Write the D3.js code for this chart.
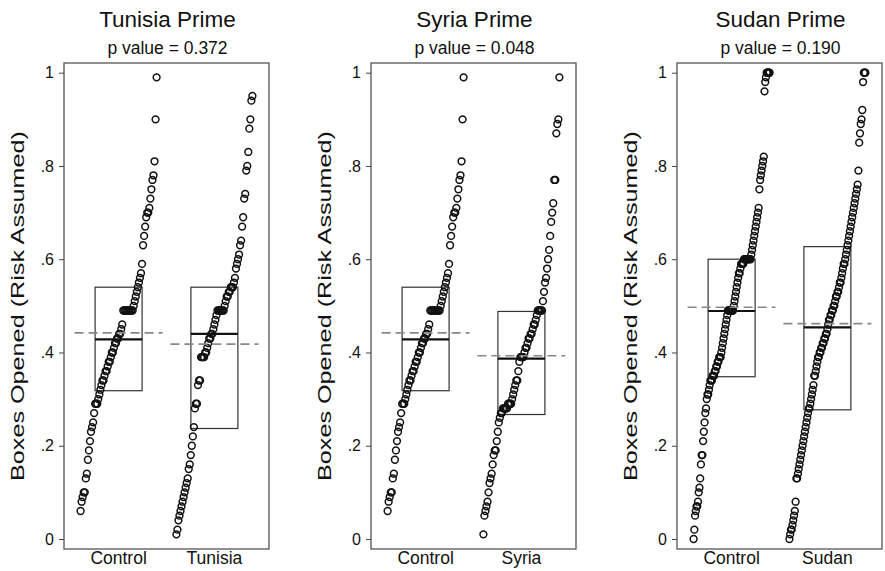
<!DOCTYPE html>
<html>
<head>
<meta charset="utf-8">
<script src="https://cdn.jsdelivr.net/npm/d3@7"></script>
<style>
  body { margin: 0; background: #fff; }
  svg { font-family: "Liberation Sans", Arial, sans-serif; }
</style>
</head>
<body>
<div id="chart"></div>
<script>
// panel titles and p values
const titles = ["Tunisia Prime", "Syria Prime", "Sudan Prime"];
const pValues = ["0.372", "0.048", "0.190"];
const groupNames = [["Control", "Tunisia"], ["Control", "Syria"], ["Control", "Sudan"]];

// share of boxes opened, sorted, one array per group
const controlA = [.06, .08, .09, .10, .10, .13, .14, .17, .19, .21, .23,
  .24, .25, .27, .29, .29,
  .29, .30, .31, .32, .33, .34, .34,
  .35, .36, .36, .37, .38, .38, .39, .40, .40, .41, .42, .42, .43, .43, .44, .44, .45, .46,
  .49, .49, .49, .49, .49, .49, .49, .49, .49, .49,
  .50, .51, .52, .53, .54, .55, .56,
  .57, .59, .63, .65, .67, .69, .70, .70, .71, .73, .75, .77, .78, .81, .90, .99];
const tunisia = [.01, .02, .04, .05, .06, .07, .08, .09, .10, .11, .12, .13, .15, .16, .18, .20, .22, .24,
  .28, .29, .29,
  .33, .34, .34,
  .39, .39, .39, .39,
  .40, .40, .41, .42, .43, .43, .44, .44, .45, .46, .47,
  .48, .49, .49, .49, .49, .49, .49, .49,
  .50, .51, .52, .52, .53, .53, .54, .54, .54,
  .55, .56, .58, .59, .60, .61, .63, .64, .67, .69, .73, .74, .79, .80, .83, .88, .90, .94, .95];
const syria = [.01, .05, .06, .07, .08, .10, .12, .13, .14, .16, .18, .19, .19, .21, .23, .25, .26,
  .27, .27, .28, .28, .28, .28, .28, .29, .29, .29, .29,
  .30, .31, .32, .33, .34, .34, .36, .38,
  .39, .39, .39, .39,
  .40, .41, .41, .42, .43, .43, .44, .44, .45, .46, .46, .47, .48,
  .49, .49, .49, .49, .49,
  .51, .53, .55, .56, .58, .60, .62, .65, .68, .70, .72, .77, .77, .87, .89, .90, .99];
const controlB = [0, .02, .05, .06, .07, .07, .08, .10, .11, .13,
  .16, .18, .18, .21, .23, .25, .27, .28,
  .30, .31, .31, .32, .33,
  .34, .34, .34, .35, .35, .35, .36, .36,
  .37, .37, .38, .38, .39, .39, .39, .40, .41, .42,
  .43, .44, .45, .46, .47,
  .48, .49, .49, .49, .49, .49, .49, .49, .49,
  .50, .51, .52, .53, .54, .55, .56, .57, .57, .58,
  .59, .59, .59, .59, .60, .60, .60, .60, .60, .60, .60, .60, .60, .60,
  .61, .62, .63, .64, .65, .66, .67, .68, .69, .70,
  .71, .75, .77, .78, .79, .80, .81, .82,
  .96, .98, .99, 1, 1, 1, 1, 1];
const sudan = [0, .01, .02, .02, .03, .04, .05, .06, .08,
  .13, .13, .14, .15,
  .16, .17, .18, .19, .20, .21,
  .22, .23, .24, .25, .26, .27,
  .28, .28, .29,
  .30, .31, .32, .33,
  .35, .35, .36, .37, .38, .39, .39,
  .40, .40, .41, .41, .42, .42, .43, .43, .44, .44, .45,
  .46, .47, .47, .48, .48, .49, .49, .50, .50, .51,
  .52, .52, .53, .53, .54, .55, .55, .56, .57, .58, .59, .59,
  .60, .61, .62, .63, .64, .65, .66, .67, .68, .69,
  .70, .71, .72, .73, .74, .75, .76,
  .79, .85, .87, .89, .90, .92, .98, 1, 1, 1];
const groupValues = [[controlA, tunisia], [controlA, syria], [controlB, sudan]];

// box summaries per group, as drawn: lower quartile, median, upper quartile, mean
const q1s = [[.318, .237], [.318, .267], [.348, .277]];
const medians = [[.428, .44], [.428, .387], [.489, .454]];
const q3s = [[.54, .54], [.54, .488], [.60, .627]];
const means = [[.442, .418], [.442, .393], [.497, .462]];

const yTicks = [0, .2, .4, .6, .8, 1];
const yTickLabels = ["0", ".2", ".4", ".6", ".8", "1"];

const W = 885, H = 571;
const panelLeft = [64, 371, 677];
const panelW = 205, plotTop = 63, plotBottom = 549;

const svg = d3.select("#chart").append("svg")
  .attr("width", W).attr("height", H);

const y = d3.scaleLinear().domain([0, 1]).range([539, 72.7]);

titles.forEach((title, p) => {
  const g = svg.append("g").attr("transform", `translate(${panelLeft[p]},0)`);

  const x = d3.scalePoint().domain(groupNames[p]).range([0, panelW]).padding(0.57);
  const spread = d3.scaleLinear().domain([0, 1]).range([-38, 38]);

  // title and p value
  g.append("text")
    .attr("x", panelW / 2 + 1).attr("y", 27)
    .attr("text-anchor", "middle")
    .attr("font-size", 22.5).attr("fill", "#111")
    .text(title);
  g.append("text")
    .attr("x", panelW / 2 + 1).attr("y", 54)
    .attr("text-anchor", "middle")
    .attr("font-size", 17.5).attr("fill", "#111")
    .text(`p value = ${pValues[p]}`);

  // frame
  g.append("rect")
    .attr("x", 0).attr("y", plotTop)
    .attr("width", panelW).attr("height", plotBottom - plotTop)
    .attr("fill", "none").attr("stroke", "#555").attr("stroke-width", 1.3);

  // y axis
  const yAxis = d3.axisLeft(y).tickValues(yTicks)
    .tickFormat((d, i) => yTickLabels[i]).tickSize(5).tickPadding(5);
  const ay = g.append("g").call(yAxis);
  ay.select(".domain").remove();
  ay.selectAll("line").attr("stroke", "#444");
  ay.selectAll("text").attr("font-size", 16).attr("fill", "#111")
    .attr("font-family", "Liberation Sans, Arial, sans-serif");

  g.append("text")
    .attr("transform", `translate(${-40},${(plotTop + plotBottom) / 2}) rotate(-90)`)
    .attr("text-anchor", "middle")
    .attr("font-size", 19).attr("fill", "#111")
    .attr("textLength", 350).attr("lengthAdjust", "spacingAndGlyphs")
    .text("Boxes Opened (Risk Assumed)");

  // x labels
  groupNames[p].forEach(name => {
    g.append("text")
      .attr("x", x(name)).attr("y", 564)
      .attr("text-anchor", "middle")
      .attr("font-size", 17.5).attr("fill", "#111")
      .text(name);
  });

  groupNames[p].forEach((name, k) => {
    const cx = x(name);
    const vals = groupValues[p][k];

    // box for interquartile range
    g.append("rect")
      .attr("x", cx - 23.5).attr("width", 47)
      .attr("y", y(q3s[p][k])).attr("height", y(q1s[p][k]) - y(q3s[p][k]))
      .attr("fill", "none").attr("stroke", "#333").attr("stroke-width", 1.2);

    // points, spread by rank
    g.append("g").selectAll("circle")
      .data(vals)
      .join("circle")
      .attr("cx", (d, i) => cx + spread(i / (vals.length - 1)))
      .attr("cy", d => y(d))
      .attr("r", 3.4)
      .attr("fill", "none")
      .attr("stroke", "#111")
      .attr("stroke-width", 1.5);

    // median
    g.append("line")
      .attr("x1", cx - 23.5).attr("x2", cx + 23.5)
      .attr("y1", y(medians[p][k])).attr("y2", y(medians[p][k]))
      .attr("stroke", "#111").attr("stroke-width", 2.2);

    // mean
    g.append("line")
      .attr("x1", cx - 44).attr("x2", cx + 44)
      .attr("y1", y(means[p][k])).attr("y2", y(means[p][k]))
      .attr("stroke", "#888").attr("stroke-width", 1.7)
      .attr("stroke-dasharray", "9,5");
  });
});
</script>
</body>
</html>
